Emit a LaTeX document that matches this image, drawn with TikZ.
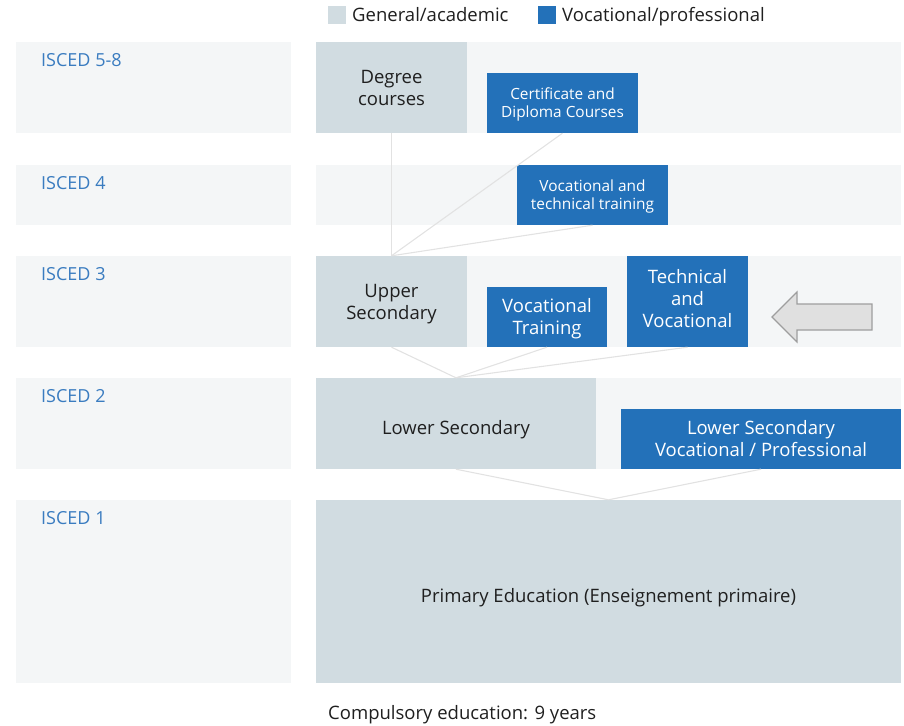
\documentclass[tikz,border=0pt]{standalone}
\usepackage{fontspec}
\setmainfont{Open Sans}
\definecolor{bandgray}{HTML}{F4F6F7}
\definecolor{genfill}{HTML}{D1DCE1}
\definecolor{vocfill}{HTML}{2371B9}
\definecolor{iscedblue}{HTML}{3A7CC0}
\definecolor{linkgray}{HTML}{E2E2E2}
\tikzset{
  genbox/.style={fill=genfill, inner sep=0pt, align=center, text=black!88,
    font=\fontsize{18.5}{22}\selectfont, text height=35pt, text depth=0pt},
  vocbox/.style={fill=vocfill, inner sep=0pt, align=center, text=white,
    font=\fontsize{18.5}{22}\selectfont, text height=35pt, text depth=0pt},
  vocsmall/.style={vocbox, font=\fontsize{15.4}{18.5}\selectfont, text height=29.5pt},
  oneline/.style={text height=21pt},
  threelines/.style={text height=51pt},
  iscedlabel/.style={anchor=base west, inner sep=0pt, text=iscedblue,
    font=\fontsize{18}{21}\selectfont},
  plaintext/.style={anchor=base west, inner sep=0pt, text=black!88,
    font=\fontsize{18.5}{22}\selectfont},
  link/.style={draw=linkgray, line width=1.1pt},
}
\begin{document}
\begin{tikzpicture}[x=1pt,y=-1pt]
  \useasboundingbox (0,0) rectangle (904,725);

  % Drawing background bands
  \fill[bandgray] (16,42) rectangle (291,133);
  \fill[bandgray] (316,42) rectangle (901,133);
  \fill[bandgray] (16,165) rectangle (291,225);
  \fill[bandgray] (316,165) rectangle (901,225);
  \fill[bandgray] (16,256) rectangle (291,347);
  \fill[bandgray] (316,256) rectangle (901,347);
  \fill[bandgray] (16,378) rectangle (291,469);
  \fill[bandgray] (316,378) rectangle (901,469);
  \fill[bandgray] (16,500) rectangle (291,683);

  % Drawing legend
  \node[fill=genfill, minimum size=18pt, inner sep=0pt] (keygen) at (337,15) {};
  \node[plaintext] (keygentext) at (352,21.5) {General/academic};
  \node[fill=vocfill, minimum size=18pt, inner sep=0pt] (keyvoc) at (547,15) {};
  \node[plaintext] (keyvoctext) at (562,21.5) {Vocational/professional};

  % Drawing ISCED levels
  \node[iscedlabel] (isced58) at (41,66.5) {ISCED 5-8};
  \node[iscedlabel] (isced4) at (41,189.5) {ISCED 4};
  \node[iscedlabel] (isced3) at (41,280.5) {ISCED 3};
  \node[iscedlabel] (isced2) at (41,402.5) {ISCED 2};
  \node[iscedlabel] (isced1) at (41,524.5) {ISCED 1};

  % Drawing programmes
  \node[genbox, minimum width=151pt, minimum height=91pt] (degree) at (391.5,87.5) {Degree\\courses};
  \node[vocsmall, minimum width=151pt, minimum height=60pt] (diploma) at (562.5,103) {Certificate and\\Diploma Courses};
  \node[vocsmall, minimum width=151pt, minimum height=60pt] (vocpost) at (592.5,195) {Vocational and\\technical training};
  \node[genbox, minimum width=151pt, minimum height=91pt] (upper) at (391.5,301.5) {Upper\\Secondary};
  \node[vocbox, minimum width=120pt, minimum height=60pt] (voctrain) at (547,317) {Vocational\\Training};
  \node[vocbox, threelines, minimum width=121pt, minimum height=91pt] (techvoc) at (687.5,301.5) {Technical\\and\\Vocational};
  \node[genbox, oneline, minimum width=280pt, minimum height=91pt] (lower) at (456,423.5) {Lower Secondary};
  \node[vocbox, minimum width=280pt, minimum height=60pt] (lowervoc) at (761,439) {Lower Secondary\\Vocational / Professional};
  \node[genbox, oneline, minimum width=585pt, minimum height=183pt] (primary) at (608.5,591.5) {Primary Education (Enseignement primaire)};

  % Drawing connectors
  \draw[link] (degree.south) -- (upper.north);
  \draw[link] (diploma.south) -- (upper.north);
  \draw[link] (vocpost.south) -- (upper.north);
  \draw[link] (upper.south) -- (lower.north);
  \draw[link] (voctrain.south) -- (lower.north);
  \draw[link] (techvoc.south) -- (lower.north);
  \draw[link] (lower.south) -- (primary.north);
  \draw[link] (lowervoc.south) -- (primary.north);

  % Drawing arrow
  \filldraw[fill=black!12, draw=black!38, line width=1.2pt, line join=miter]
    (872,304) -- (797,304) -- (797,292) -- (772,317) -- (797,342)
    -- (797,330) -- (872,330) -- cycle;

  % Drawing footnote
  \node[plaintext] (compulsory) at (328,719.5) {Compulsory education: 9 years};
\end{tikzpicture}
\end{document}
